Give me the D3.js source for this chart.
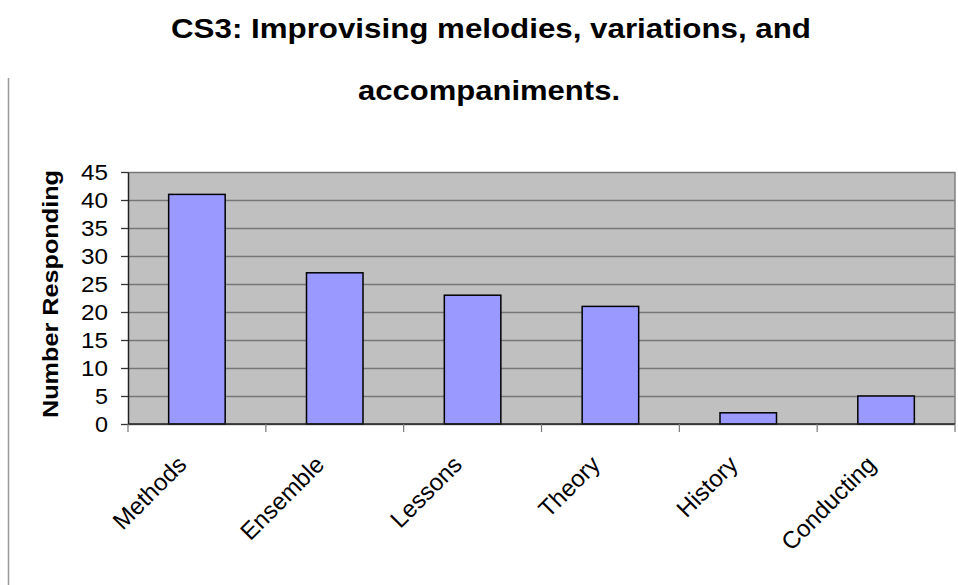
<!DOCTYPE html>
<html>
<head>
<meta charset="utf-8">
<script src="https://cdn.jsdelivr.net/npm/d3@7"></script>
<style>
  body { margin: 0; background: #fff; }
  svg { display: block; font-family: "Liberation Sans", Arial, sans-serif; }
</style>
</head>
<body>
<div id="chart"></div>
<script>
var categories = ["Methods", "Ensemble", "Lessons", "Theory", "History", "Conducting"];
var responses = [41, 27, 23, 21, 2, 5];
var yTicks = [0, 5, 10, 15, 20, 25, 30, 35, 40, 45];
var titleLines = ["CS3: Improvising melodies, variations, and", "accompaniments."];
var yTitle = "Number Responding";

var width = 958, height = 585;
var plot = {left: 128, right: 955, top: 172, bottom: 424};

var svg = d3.select("#chart").append("svg")
  .attr("width", width)
  .attr("height", height);

// thin page rule on the left
svg.append("line")
  .attr("x1", 8.5).attr("x2", 8.5)
  .attr("y1", 78).attr("y2", height)
  .attr("stroke", "#999").attr("stroke-width", 1.5);

// title, stretched like the original
svg.append("text")
  .attr("x", 171).attr("y", 38)
  .attr("font-size", 27).attr("font-weight", "bold")
  .attr("textLength", 640).attr("lengthAdjust", "spacingAndGlyphs")
  .text(titleLines[0]);
svg.append("text")
  .attr("x", 358).attr("y", 100)
  .attr("font-size", 27).attr("font-weight", "bold")
  .attr("textLength", 262).attr("lengthAdjust", "spacingAndGlyphs")
  .text(titleLines[1]);

var x = d3.scaleBand()
  .domain(categories)
  .range([plot.left, plot.right])
  .paddingInner(0.59)
  .paddingOuter(0.295);

var y = d3.scaleLinear()
  .domain([0, 45])
  .range([plot.bottom, plot.top]);

// plot background
svg.append("rect")
  .attr("x", plot.left).attr("y", plot.top)
  .attr("width", plot.right - plot.left)
  .attr("height", plot.bottom - plot.top)
  .attr("fill", "#c0c0c0");

// gridlines
svg.append("g")
  .attr("transform", "translate(" + plot.left + ",0)")
  .call(d3.axisLeft(y).tickValues(yTicks).tickSize(-(plot.right - plot.left)).tickFormat(""))
  .call(function(g) { g.select(".domain").remove(); })
  .selectAll("line")
  .attr("stroke", "#777").attr("stroke-width", 1.4);

// right border
svg.append("line")
  .attr("x1", plot.right).attr("x2", plot.right)
  .attr("y1", plot.top).attr("y2", plot.bottom)
  .attr("stroke", "#808080").attr("stroke-width", 1.5);

// bars
svg.append("g").selectAll("rect")
  .data(responses)
  .enter().append("rect")
  .attr("x", function(d, i) { return x(categories[i]); })
  .attr("y", function(d) { return y(d); })
  .attr("width", x.bandwidth())
  .attr("height", function(d) { return y(0) - y(d); })
  .attr("fill", "#9999ff")
  .attr("stroke", "#000")
  .attr("stroke-width", 1.5);

// y axis
var yAxis = svg.append("g")
  .attr("transform", "translate(" + plot.left + ",0)")
  .call(d3.axisLeft(y).tickValues(yTicks).tickSize(7).tickPadding(13).tickSizeOuter(0));
yAxis.select(".domain").attr("stroke", "#222").attr("stroke-width", 1.5);
yAxis.selectAll(".tick line").attr("stroke", "#333").attr("stroke-width", 1.3);
yAxis.selectAll(".tick text")
  .attr("font-size", 22)
  .attr("font-family", "Liberation Sans, Arial, sans-serif")
  .attr("fill", "#000")
  .attr("textLength", function(d) { return d < 10 ? 13 : 27; })
  .attr("lengthAdjust", "spacingAndGlyphs");

// x axis: ticks sit on category boundaries
var bounds = categories.map(function(c) { return x(c) - x.step() * x.paddingInner() / 2; });
bounds.push(plot.right);
var xAxis = svg.append("g");
xAxis.append("line")
  .attr("x1", plot.left).attr("x2", plot.right)
  .attr("y1", plot.bottom).attr("y2", plot.bottom)
  .attr("stroke", "#222").attr("stroke-width", 1.5);
xAxis.selectAll("line.tick")
  .data(bounds)
  .enter().append("line")
  .attr("class", "tick")
  .attr("x1", function(d) { return d; }).attr("x2", function(d) { return d; })
  .attr("y1", plot.bottom).attr("y2", plot.bottom + 8)
  .attr("stroke", "#777").attr("stroke-width", 1.2);

xAxis.selectAll("text")
  .data(categories)
  .enter().append("text")
  .attr("transform", function(d) {
    return "translate(" + (x(d) + x.bandwidth() / 2 - 9) + "," + 466 + ") rotate(-45)";
  })
  .attr("text-anchor", "end")
  .attr("font-size", 24)
  .text(function(d) { return d; });

// y title
svg.append("text")
  .attr("transform", "translate(58,418) rotate(-90)")
  .attr("font-size", 22).attr("font-weight", "bold")
  .attr("textLength", 248).attr("lengthAdjust", "spacingAndGlyphs")
  .text(yTitle);
</script>
</body>
</html>
